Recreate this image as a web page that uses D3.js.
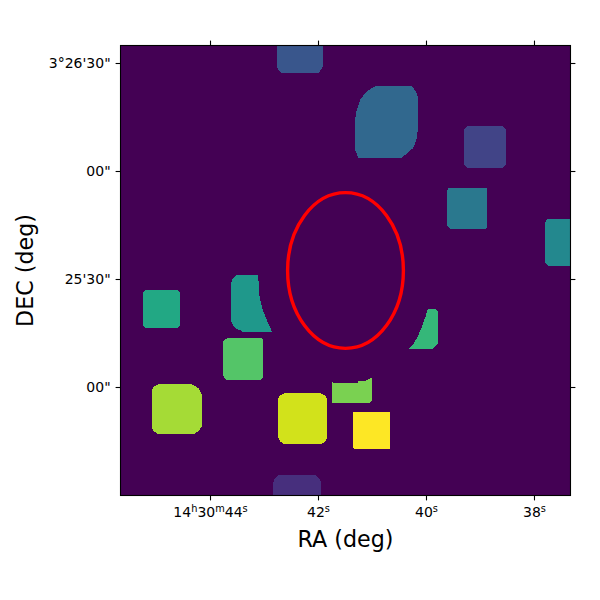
<!DOCTYPE html>
<html>
<head>
<meta charset="utf-8">
<title>Labelled regions</title>
<style>
body { margin: 0; background: #fff; }
text { font-family: "DejaVu Sans", sans-serif; fill: #000; }
.tick text { font-size: 14px; }
.axis-title { font-size: 22.2px; }
</style>
</head>
<body>
<script src="https://d3js.org/d3.v7.min.js"></script>
<script>

// ticks: RA in seconds past 14h30m, DEC in arcsec past 3d25m
var raTicks = [44, 42, 40, 38];
var raTickLabels = ["14^h30^m44^s", "42^s", "40^s", "38^s"];
var decTicks = [90, 60, 30, 0];
var decTickLabels = ["3°26'30\"", "00\"", "25'30\"", "00\""];
var raDomain = [45.667, 37.333];
var decDomain = [-30, 95];

// image grid size and label range
var gridSize = 300;
var labelMax = 15;

// segment labels, and their outlines in image cells
var regionLabels = [2, 3, 4, 5, 6, 7, 8, 9, 10, 11, 12, 13, 14, 15];
var region2 = [[101.9,0],[133.7,0],[133.7,9],[132.5,11.5],[130,13.5],[105.5,13.5],[103,11.5],[101.9,9]];
var region3 = [[231,246.1],[254.8,246.1],[256.8,244.1],[256.8,220.5],[254.8,218.5],[231,218.5],[229,220.5],[229,244.1]];
var region4 = [[104.1,300],[135,300],[135,286.3],[134,284.3],[133,283],[132,281.9],[107.3,281.9],[105.7,283],[104.7,285],[104.1,287]];
var region5 = [[169.7,272.8],[194.1,272.8],[195.2,271.7],[197.2,268.7],[198.1,265.7],[198.1,243],[197.2,237],[195.2,231.7],[187,224.8],[158.5,224.8],[157.5,228.1],[156.3,230.3],[156.3,250.3],[157.5,257],[159.7,263.7],[163,268.1],[166.3,270.8]];
var region6 = [[218.7,205],[244.3,205],[244.3,179],[243,177.5],[220,177.5],[217.7,180],[217.7,203.5]];
var region7 = [[285,184.5],[300,184.5],[300,153],[285,153],[283.2,155],[283.2,182.5]];
var region8 = [[77.5,146.8],[91.9,146.8],[92.1,140.3],[92.8,131.5],[94.5,124.8],[97.5,117],[101.2,108.8],[81.9,108.8],[79.7,110.3],[76.3,111.5],[74.1,115.5],[73.5,118.1],[73.5,140.3],[74.8,144.8]];
var region9 = [[16.3,136.8],[38.4,136.8],[39.7,135.5],[39.7,113.2],[38.4,111.9],[16.3,111.9],[15,113.2],[15,135.5]];
var region10 = [[204.8,124.3],[210.1,124.3],[211.5,123],[211.5,101],[209,99],[208.3,97.7],[191.9,97.7],[195.7,101.7],[198.3,106.3],[200.3,111],[202.3,116.3],[203.7,120.3]];
var region11 = [[71,104.8],[94.5,104.8],[95,104],[95,78.5],[93.5,77],[71,77],[69,78.5],[68.3,80.5],[68.3,102],[69,103.5]];
var region12 = [[141,61.9],[141,76.3],[141.9,75],[158.1,75],[158.5,76.1],[163,76.5],[165.2,77.5],[167.5,78.3],[167.5,63],[166.3,61.9]];
var region13 = [[25.5,74.1],[47.5,74.1],[50,73],[52.5,71],[54.1,67.5],[54.1,46],[52,43],[49.5,41.2],[24.5,41.2],[22,43],[21.2,45],[21.2,71],[22.5,73]];
var region14 = [[109,68.1],[133.5,68.1],[136,67],[137.9,64.5],[137.9,39],[136.5,36],[133.5,34.1],[109,34.1],[106.5,36],[105,39],[105,64],[106,66.5]];
var region15 = [[155.2,55.7],[179.9,55.7],[179.9,31],[156,31],[155.2,32]];
var regionOutlines = [region2, region3, region4, region5, region6, region7, region8, region9, region10, region11, region12, region13, region14, region15];

// aperture ellipse in image cells
var ellipseCentre = [150, 150];
var ellipseRadii = [38.6, 51.9];

// Set graph margins and dimensions
var margin = {top: 45.5, right: 29.5, bottom: 104.5, left: 120.5},
    width = 600 - margin.left - margin.right,
    height = 600 - margin.top - margin.bottom;

var svg = d3.select("body").append("svg")
    .style("display", "block")
    .attr("width", 600)
    .attr("height", 600);
var g = svg.append("g")
    .attr("transform", "translate(" + margin.left + "," + margin.top + ")");

// Set ranges
var x = d3.scaleLinear().domain([0, gridSize]).range([0, width]);
var y = d3.scaleLinear().domain([0, gridSize]).range([height, 0]);
var ra = d3.scaleLinear().domain(raDomain).range([0, width]);
var dec = d3.scaleLinear().domain(decDomain).range([height, 0]);
var colour = d3.scaleSequential(d3.interpolateViridis).domain([0, labelMax]);

// Background of the image
g.append("rect")
    .attr("width", width)
    .attr("height", height)
    .attr("fill", colour(0));

// Regions
var outline = d3.line()
    .x(function(d) { return x(d[0]); })
    .y(function(d) { return y(d[1]); });

g.selectAll(".region")
    .data(regionLabels)
  .enter().append("path")
    .attr("class", "region")
    .attr("d", function(d, i) { return outline(regionOutlines[i]) + "Z"; })
    .attr("fill", function(d) { return colour(d); })
    .attr("shape-rendering", "crispEdges");

// Ellipse
g.append("ellipse")
    .attr("cx", x(ellipseCentre[0]))
    .attr("cy", y(ellipseCentre[1]))
    .attr("rx", x(ellipseRadii[0]) - x(0))
    .attr("ry", y(0) - y(ellipseRadii[1]))
    .attr("fill", "none")
    .attr("stroke", "#ff0000")
    .attr("stroke-width", 3.4);

// Write a tick label, raising whatever follows a ^
function writeLabel(selection, labels) {
  selection.text(null).each(function(d, i) {
    var t = d3.select(this);
    labels[i].split(/(\^.)/).filter(function(s) { return s; }).forEach(function(part, j, parts) {
      var raised = part[0] === "^";
      var afterRaised = j > 0 && parts[j - 1][0] === "^";
      t.append("tspan")
          .attr("font-size", raised ? "9.8px" : null)
          .attr("dy", raised ? -5 : (afterRaised ? 5 : null))
          .text(raised ? part.slice(1) : part);
    });
  });
}

// Axes
var bottom = g.append("g")
    .attr("transform", "translate(0," + height + ")")
    .call(d3.axisBottom(ra).tickValues(raTicks).tickSize(4.9).tickPadding(7).offset(0));
bottom.selectAll("text").call(writeLabel, raTickLabels);

g.append("g")
    .call(d3.axisTop(ra).tickValues(raTicks).tickSize(4.9).tickFormat("").offset(0));

var left = g.append("g")
    .call(d3.axisLeft(dec).tickValues(decTicks).tickSize(4.9).tickPadding(5).offset(0));
left.selectAll("text").call(writeLabel, decTickLabels);

g.append("g")
    .attr("transform", "translate(" + width + ",0)")
    .call(d3.axisRight(dec).tickValues(decTicks).tickSize(4.9).tickFormat("").offset(0));

g.selectAll(".domain").remove();
g.selectAll(".tick line").attr("stroke", "#000").attr("stroke-width", 1.1);

// Frame
g.append("rect")
    .attr("width", width)
    .attr("height", height)
    .attr("fill", "none")
    .attr("stroke", "#000")
    .attr("stroke-width", 1.1);

// Axis titles
svg.append("text")
    .attr("class", "axis-title")
    .attr("x", margin.left + width / 2)
    .attr("y", 547)
    .attr("text-anchor", "middle")
    .text("RA (deg)");

svg.append("text")
    .attr("class", "axis-title")
    .attr("transform", "translate(33," + (margin.top + height / 2) + ")rotate(-90)")
    .attr("text-anchor", "middle")
    .text("DEC (deg)");

</script>
</body>
</html>
